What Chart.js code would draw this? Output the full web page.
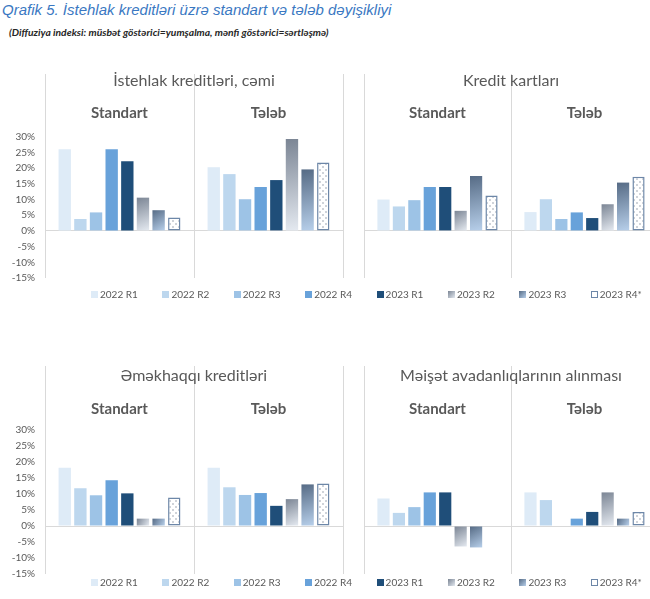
<!DOCTYPE html>
<html>
<head>
<meta charset="utf-8">
<script src="https://cdn.jsdelivr.net/npm/chart.js@4.4.0/dist/chart.umd.min.js"></script>
<style>
  body { margin: 0; width: 650px; height: 599px; overflow: hidden; position: relative; background: #fff; }
  #title { position: absolute; left: 2px; top: 1px; font: italic 15px 'Liberation Sans', Arial, sans-serif; color: #3a78c2; white-space: nowrap; }
  #subtitle { position: absolute; left: 9px; top: 26px; font: italic bold 10.3px Lato, sans-serif; color: #262626; white-space: nowrap; }
  canvas { position: absolute; }
  .legend { position: absolute; left: 0; width: 650px; height: 14px; font: 10px Lato, sans-serif; color: #595959; }
  .legend div { position: absolute; top: 0; white-space: nowrap; line-height: 14px; }
  .legend span { display: inline-block; width: 7px; height: 7px; margin-right: 2px; box-sizing: border-box; }
</style>
</head>
<body>
<div id="title">Qrafik 5. İstehlak kreditləri üzrə standart və tələb dəyişikliyi</div>
<div id="subtitle">(Diffuziya indeksi: müsbət göstərici=yumşalma, mənfi göstərici=sərtləşmə)</div>
<canvas id="c1"></canvas>
<canvas id="c2"></canvas>
<canvas id="c3"></canvas>
<canvas id="c4"></canvas>
<div class="legend" id="lg1" style="top:287px"></div>
<div class="legend" id="lg2" style="top:575px"></div>
<script>
categories = ['Standart', 'Tələb']
periods = ['2022 R1', '2022 R2', '2022 R3', '2022 R4', '2023 R1', '2023 R2', '2023 R3', '2023 R4*']
yTicks = [-15, -10, -5, 0, 5, 10, 15, 20, 25, 30]

istehlakStandart = [26, 3.8, 5.9, 26, 22.2, 10.6, 6.6, 4.3]
istehlakTeleb = [20.3, 18.1, 10.1, 14, 16.2, 29.3, 19.6, 21.8]
kartStandart = [10, 7.8, 9.8, 14, 14, 6.4, 17.5, 11.3]
kartTeleb = [6, 10.1, 3.8, 5.9, 4.1, 8.5, 15.4, 17.3]
emekStandart = [18.2, 11.8, 9.6, 14.3, 10.2, 2.3, 2.3, 8.9]
emekTeleb = [18.2, 12.1, 9.7, 10.3, 6.3, 8.4, 13, 13.3]
meisetStandart = [8.6, 4.1, 5.9, 10.5, 10.5, -6.4, -6.7, null]
meisetTeleb = [10.5, 8.1, null, 2.3, 4.4, 10.5, 2.3, 4.4]

gridColor = '#d9d9d9'
textColor = '#595959'

function grad(c1, c2) {
  return function (ctx) {
    var el = ctx.element
    if (!el || el.x === undefined || isNaN(el.x) || !el.width) return c2
    var top = Math.min(el.y, el.base), bot = Math.max(el.y, el.base)
    var g = ctx.chart.ctx.createLinearGradient(el.x - el.width / 2, top, el.x + el.width / 2, bot)
    g.addColorStop(0, c1)
    g.addColorStop(1, c2)
    return g
  }
}

function dotPattern() {
  var p = document.createElement('canvas')
  p.width = 6; p.height = 6
  var g = p.getContext('2d')
  g.fillStyle = '#fff'; g.fillRect(0, 0, 6, 6)
  g.fillStyle = '#cfd3d9'
  g.fillRect(1, 1, 2, 2); g.fillRect(4, 4, 2, 2)
  return g.createPattern(p, 'repeat')
}

fills = ['#deebf7', '#bdd7ee', '#9dc3e6', '#68a2da', '#1f4e79',
  grad('#7b8594', '#e4e9f0'), grad('#566b85', '#b7cfea'), dotPattern()]
legendFills = ['#deebf7', '#bdd7ee', '#9dc3e6', '#68a2da', '#1f4e79',
  'linear-gradient(135deg,#7b8594,#e4e9f0)', 'linear-gradient(135deg,#566b85,#b7cfea)', '#fff']

panelText = {
  id: 'panelText',
  afterDraw(chart, args, opts) {
    var ctx = chart.ctx, area = chart.chartArea, x = chart.scales.x
    ctx.save()
    ctx.fillStyle = textColor
    ctx.textAlign = 'center'
    ctx.textBaseline = 'middle'
    ctx.font = '16px Lato'
    ctx.fillText(opts.title, (area.left + area.right) / 2, opts.titleY)
    ctx.font = 'bold 15px Lato'
    categories.forEach(function (c, i) { ctx.fillText(c, x.getPixelForValue(i), opts.catY) })
    ctx.restore()
  }
}

function makeChart(id, pos, standart, teleb, title, showY) {
  var cv = document.getElementById(id)
  cv.width = pos.w; cv.height = pos.h
  cv.style.left = pos.left + 'px'; cv.style.top = pos.top + 'px'
  var datasets = periods.map(function (p, i) {
    return {
      label: p,
      data: [standart[i], teleb[i]],
      backgroundColor: fills[i],
      borderColor: i == 7 ? '#6d87a8' : 'transparent',
      borderWidth: i == 7 ? 1.5 : 0,
      borderSkipped: false,
      barPercentage: 0.79,
      categoryPercentage: 0.84
    }
  })
  var chart = new Chart(cv, {
    type: 'bar',
    data: { labels: categories, datasets: datasets },
    options: {
      responsive: false,
      animation: false,
      layout: { padding: pos.pad },
      plugins: {
        legend: { display: false },
        tooltip: { enabled: false },
        panelText: { title: title, titleY: pos.titleY, catY: pos.catY }
      },
      scales: {
        x: {
          ticks: { display: false },
          grid: { color: gridColor, drawTicks: false, offset: true },
          border: { display: false }
        },
        y: {
          min: -15, max: 50,
          afterBuildTicks: function (s) { s.ticks = yTicks.map(function (v) { return { value: v } }) },
          afterFit: function (s) {
            s.width = showY ? 45 : 0
            s.paddingTop = 0
            s.paddingBottom = 0
          },
          ticks: {
            display: showY,
            padding: 10,
            color: textColor,
            font: { family: 'Lato', size: 10 },
            callback: function (v) { return v + '%' }
          },
          grid: {
            drawTicks: false,
            color: function (c) { return c.tick && c.tick.value === 0 ? gridColor : 'transparent' }
          },
          border: { display: false }
        }
      }
    },
    plugins: [panelText]
  })
  chart.update()
  return chart
}

makeChart('c1', { left: 0, top: 60, w: 360, h: 230, pad: { left: 0, right: 17, top: 14, bottom: 12 }, titleY: 21, catY: 53 },
  istehlakStandart, istehlakTeleb, 'İstehlak kreditləri, cəmi', true)
makeChart('c2', { left: 350, top: 60, w: 320, h: 230, pad: { left: 14, right: 12, top: 14, bottom: 12 }, titleY: 21, catY: 53 },
  kartStandart, kartTeleb, 'Kredit kartları', false)
makeChart('c3', { left: 0, top: 355, w: 360, h: 230, pad: { left: 0, right: 17, top: 11, bottom: 11 }, titleY: 21, catY: 54 },
  emekStandart, emekTeleb, 'Əməkhaqqı kreditləri', true)
makeChart('c4', { left: 350, top: 355, w: 320, h: 230, pad: { left: 14, right: 12, top: 11, bottom: 11 }, titleY: 21, catY: 54 },
  meisetStandart, meisetTeleb, 'Məişət avadanlıqlarının alınması', false)

function makeLegend(id) {
  var box = document.getElementById(id)
  periods.forEach(function (p, i) {
    var d = document.createElement('div')
    d.style.left = (91 + i * 71.4) + 'px'
    var s = document.createElement('span')
    s.style.background = legendFills[i]
    if (i == 7) s.style.border = '1.5px solid #6d87a8'
    d.appendChild(s)
    d.appendChild(document.createTextNode(p))
    box.appendChild(d)
  })
}
makeLegend('lg1')
makeLegend('lg2')
</script>
</body>
</html>
